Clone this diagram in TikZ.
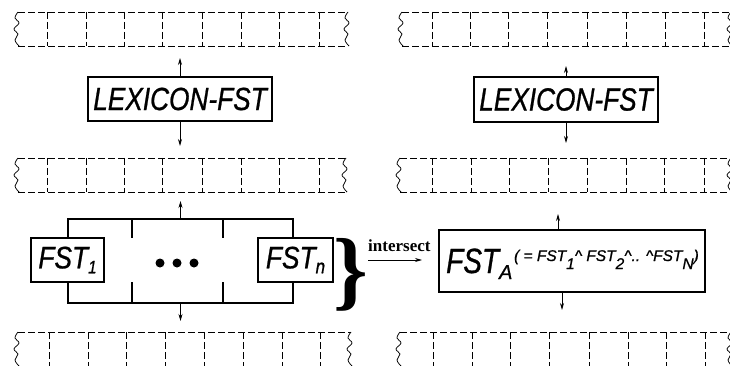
\documentclass[tikz,border=0pt]{standalone}
\usepackage{fontspec}
\usepackage{graphicx}
\setmainfont{Liberation Sans}
\newfontfamily\hvmed{Liberation Sans}[FakeBold=0.9]
\newfontfamily\tms{Liberation Serif}
\usetikzlibrary{arrows.meta}
\tikzset{
  dashln/.style={line width=0.75pt, dash pattern=on 7pt off 3pt},
  thinln/.style={line width=0.75pt},
  squig/.pic={\draw[thinln] plot[smooth, tension=0.7] coordinates {(0,0) (-3,6) (1,11) (-4,17) (0,22) (-3,28) (1,34)};},
}
\newcommand{\tapeband}[5]{%
  \draw[dashln] (#1,#3) -- (#2,#3);
  \draw[dashln] (#1,#3+34) -- (#2,#3+34);
  \foreach \d in {#4} {\draw[dashln] (\d,#3) -- (\d,#3+34);}
  \pic at (#1,#3) {squig};
  \pic at (#5,#3) {squig};
}
\begin{document}
\begin{tikzpicture}[x=1pt,y=-1pt,
  boxst/.style={draw, line width=1.1pt, fill=white, inner sep=0pt},
  arr/.style={line width=0.75pt, -{Stealth[length=7pt,width=4pt]}},
]
\useasboundingbox (0,0) rectangle (730,366);
\clip (0,0) rectangle (730,366);

% tapes
\tapeband{18}{348}{12}{47,86,124,162,202,241,279,319}{348}
\tapeband{18}{346}{158}{47,86,124,162,202,241,279,319}{346}
\tapeband{18}{351}{332}{49,88,126,165,204,243,282,320}{351}
\tapeband{402}{740}{12}{432,470,508,547,587,626,665,704}{731}
\tapeband{400}{740}{158}{432,471,509,548,587,626,664,704}{731}
\tapeband{400}{740}{332}{433,472,510,549,589,628,666,705}{731}

% left lexicon
\node[boxst, minimum width=184pt, minimum height=44pt] (lexL) at (180,99)
  {\scalebox{0.82}[1]{\fontsize{32}{32}\selectfont\hvmed\itshape LEXICON-FST}};
\coordinate (lt) at (180,58);
\coordinate (lb) at (180,146);
\draw[arr] (lexL.north) -- (lt);
\draw[arr] (lexL.south) -- (lb);

% frame with FSTs
\node[draw, line width=1.1pt, minimum width=225pt, minimum height=84pt, inner sep=0pt] (frame) at (180.5,261) {};
\draw[line width=1.1pt] (132,219) -- (132,238) (132,282) -- (132,303)
                        (223,219) -- (223,238) (223,282) -- (223,303);
\node[boxst, minimum width=73pt, minimum height=44pt] (fst1) at (67.5,260)
  {\scalebox{0.85}[1]{\fontsize{31}{31}\selectfont\hvmed\itshape FST\raisebox{-5pt}{\fontsize{18}{18}\selectfont 1}}};
\node[boxst, minimum width=75pt, minimum height=44pt] (fstn) at (295.5,260)
  {\scalebox{0.85}[1]{\fontsize{31}{31}\selectfont\hvmed\itshape FST\raisebox{-5pt}{\fontsize{20}{20}\selectfont n}}};
\fill (160,263) circle (4.5pt) (177,263) circle (4.5pt) (194,263) circle (4.5pt);
\coordinate (ft) at (180.5,201);
\coordinate (fb) at (180.5,321);
\draw[arr] (frame.north) -- (ft);
\draw[arr] (frame.south) -- (fb);

% brace and intersect
\node[anchor=base west, inner sep=0pt, font=\tms\bfseries\fontsize{88}{88}\selectfont] (brace) at (333,299) {\}};
\node[anchor=base west, inner sep=0pt, font=\tms\bfseries\fontsize{17}{17}\selectfont] (isect) at (368,251) {intersect};
\coordinate (ia) at (368,260);
\coordinate (ib) at (422,260);
\draw[arr] (ia) -- (ib);

% FST_A box
\node[boxst, minimum width=266pt, minimum height=62pt] (fsta) at (572,261) {};
\node[anchor=base west, inner sep=0pt] (fstatxt) at (446,273)
  {\hvmed\itshape\scalebox{0.8}[1]{\fontsize{35}{35}\selectfont FST}\raisebox{-6pt}{\fontsize{20}{20}\selectfont A}\,\raisebox{12pt}{\fontsize{15.5}{15.5}\selectfont ( = FST\raisebox{-8pt}{1}\textasciicircum\ FST\raisebox{-8pt}{2}\textasciicircum.. \textasciicircum FST\raisebox{-8pt}{N})}};
\coordinate (at) at (558,214);
\coordinate (ab) at (562,310);
\draw[arr] (fsta.north -| at) -- (at);
\draw[arr] (fsta.south -| ab) -- (ab);

% right lexicon
\node[boxst, minimum width=184pt, minimum height=45pt] (lexR) at (566,99.5)
  {\scalebox{0.82}[1]{\fontsize{32}{32}\selectfont\hvmed\itshape LEXICON-FST}};
\coordinate (rt) at (566,66);
\coordinate (rb) at (566,143);
\draw[arr] (lexR.north) -- (rt);
\draw[arr] (lexR.south) -- (rb);
\end{tikzpicture}
\end{document}
